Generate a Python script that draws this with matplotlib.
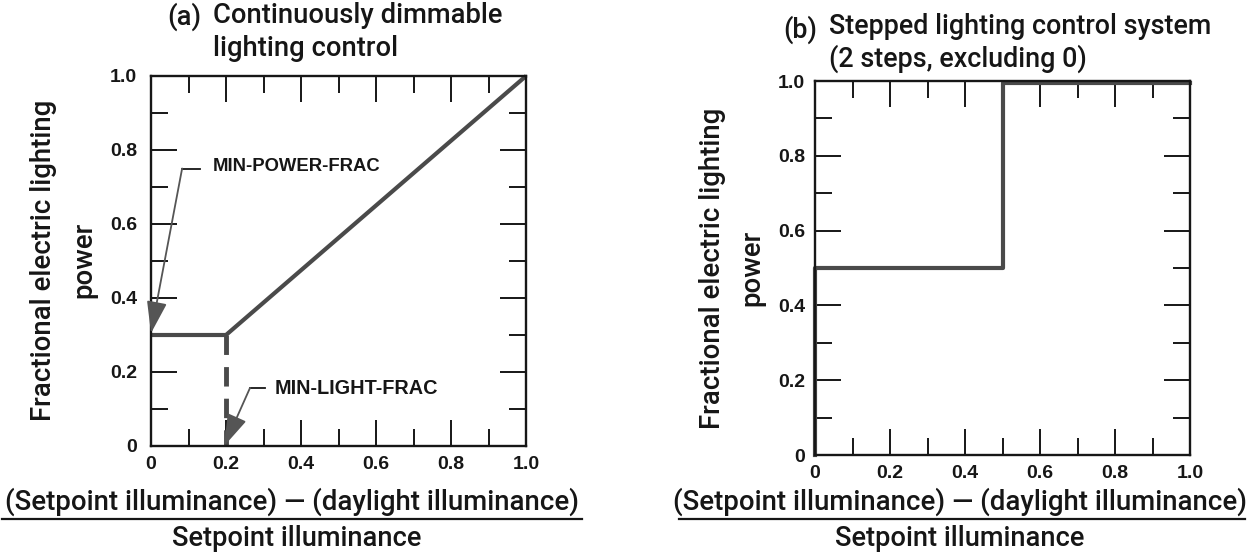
import matplotlib
matplotlib.use("Agg")
import matplotlib.pyplot as plt
from matplotlib import font_manager
from matplotlib.lines import Line2D

# axis ticks shared by both panels
tick_vals = [0.0, 0.2, 0.4, 0.6, 0.8, 1.0]
tick_labels = ["0", "0.2", "0.4", "0.6", "0.8", "1.0"]
minor_vals = [0.1, 0.3, 0.5, 0.7, 0.9]

# (a) continuously dimmable control
dim_x = [0.0, 0.2, 1.0]
dim_y = [0.3, 0.3, 1.0]
min_light_x = [0.2, 0.2]
min_light_y = [0.3, 0.0]

# (b) stepped control, 2 steps
step_x = [0.0, 0.0, 0.5, 0.5, 1.0]
step_y = [0.0, 0.5, 0.5, 0.995, 0.995]

W, H = 1253, 558
INK = "#161616"
LINE = "#4a4a4a"

installed = {f.name for f in font_manager.fontManager.ttflist}
TEXT_FONT = ["Roboto", "DejaVu Sans"] if "Roboto" in installed else ["DejaVu Sans"]
NUM_FONT = ["Liberation Sans", "DejaVu Sans"]

fig = plt.figure(figsize=(W / 100, H / 100), dpi=100)


def px_rect(x0, y0, x1, y1):
    return [x0 / W, 1 - y1 / H, (x1 - x0) / W, (y1 - y0) / H]


def fit(t, target, vertical=False):
    r = fig.canvas.get_renderer()
    bb = t.get_window_extent(renderer=r)
    size = bb.height if vertical else bb.width
    t.set_fontsize(t.get_fontsize() * target / size)


def style(ax, ypad):
    ax.set_xlim(0, 1)
    ax.set_ylim(0, 1)
    ax.set_xticks(tick_vals)
    ax.set_xticklabels(tick_labels)
    ax.set_yticks(tick_vals)
    ax.set_yticklabels(tick_labels)
    ax.set_xticks(minor_vals, minor=True)
    ax.set_yticks(minor_vals, minor=True)
    ax.tick_params(which="both", direction="in", top=True, right=True,
                   width=1.4, color=INK, labelcolor=INK, labelsize=14)
    ax.tick_params(which="major", length=19)
    ax.tick_params(which="minor", length=12)
    ax.tick_params(axis="x", pad=7)
    ax.tick_params(axis="y", pad=ypad)
    for lab in ax.get_xticklabels() + ax.get_yticklabels():
        lab.set_fontweight("bold")
        lab.set_family(NUM_FONT)
    for s in ax.spines.values():
        s.set_linewidth(1.7)
        s.set_color(INK)


axA = fig.add_axes(px_rect(151, 76, 526, 446))
axB = fig.add_axes(px_rect(815, 81, 1190, 455))
style(axA, 10)
style(axB, 7)

# panel (a)
axA.plot(dim_x, dim_y, color=LINE, lw=3, solid_capstyle="butt", clip_on=False)
axA.plot(min_light_x, min_light_y, color=LINE, lw=3.5, dashes=(4, 2.5))

arrow_kw = dict(arrowstyle="-|>,head_length=1.1,head_width=0.35",
                color="#555555", lw=1.3, shrinkA=0, shrinkB=0, mutation_scale=18)

# leader for MIN-POWER-FRAC
pw_corner = (0.083, 0.75)
pw_end = (0.13, 0.75)
pw_tip = (0.0, 0.305)
axA.plot([pw_corner[0], pw_end[0]], [pw_corner[1], pw_end[1]], color=INK, lw=1.3)
axA.annotate("", xy=pw_tip, xytext=pw_corner, arrowprops=arrow_kw)
tA1 = axA.text(0.165, 0.755, "MIN-POWER-FRAC", va="center", ha="left",
               fontweight="bold", color=INK, fontsize=10, family=NUM_FONT)

# leader for MIN-LIGHT-FRAC
lt_corner = (0.264, 0.157)
lt_end = (0.304, 0.157)
lt_tip = (0.195, 0.0)
axA.plot([lt_corner[0], lt_end[0]], [lt_corner[1], lt_end[1]], color=INK, lw=1.3)
axA.annotate("", xy=lt_tip, xytext=lt_corner, arrowprops=arrow_kw)
tA2 = axA.text(0.33, 0.155, "MIN-LIGHT-FRAC", va="center", ha="left",
               fontweight="bold", color=INK, fontsize=10, family=NUM_FONT)

# panel (b)
axB.plot(step_x, step_y, color=LINE, lw=3, clip_on=False)

# titles
ta = fig.text(167 / W, 1 - 17 / H, "(a)", ha="left", va="center", color=INK,
              fontsize=14, fontweight="medium", family=TEXT_FONT)
tb = fig.text(213 / W, 1 - 32 / H, "Continuously dimmable\nlighting control",
              ha="left", va="center", color=INK, fontsize=14, linespacing=1.25,
              fontweight="medium", family=TEXT_FONT)
fit(tb, 290)
ta.set_fontsize(tb.get_fontsize())

tc = fig.text(783 / W, 1 - 30 / H, "(b)", ha="left", va="center", color=INK,
              fontsize=14, fontweight="medium", family=TEXT_FONT)
td = fig.text(829 / W, 1 - 43 / H, "Stepped lighting control system\n(2 steps, excluding 0)",
              ha="left", va="center", color=INK, fontsize=14, linespacing=1.2,
              fontweight="medium", family=TEXT_FONT)
fit(td, 383)
tc.set_fontsize(td.get_fontsize())

# y labels
for xc, yc in [(44, 260), (712, 268)]:
    y1 = fig.text(xc / W, 1 - yc / H, "Fractional electric lighting", rotation=90,
                  ha="center", va="center", color=INK, fontsize=14,
                  fontweight="medium", family=TEXT_FONT)
    fit(y1, 322, vertical=True)
    fig.text((xc + 40) / W, 1 - yc / H, "power", rotation=90, ha="center",
             va="center", color=INK, fontsize=y1.get_fontsize(),
             fontweight="medium", family=TEXT_FONT)

# x labels as a fraction
num = "(Setpoint illuminance) \u2014 (daylight illuminance)"
den = "Setpoint illuminance"
for nx, lx0, lx1, dx in [(292, 2, 582, 297), (960, 679, 1245, 960)]:
    tn = fig.text(nx / W, 1 - 502 / H, num, ha="center", va="center", color=INK,
                  fontsize=14, fontweight="medium", family=TEXT_FONT)
    fit(tn, 576)
    fig.add_artist(Line2D([lx0 / W, lx1 / W], [1 - 519 / H, 1 - 519 / H],
                          color=INK, lw=1.6))
    tdn = fig.text(dx / W, 1 - 539 / H, den, ha="center", va="center", color=INK,
                   fontsize=14, fontweight="medium", family=TEXT_FONT)
    fit(tdn, 250)

fit(tA1, 167)
fit(tA2, 162)

fig.savefig("out.png", dpi=100, facecolor="white")
